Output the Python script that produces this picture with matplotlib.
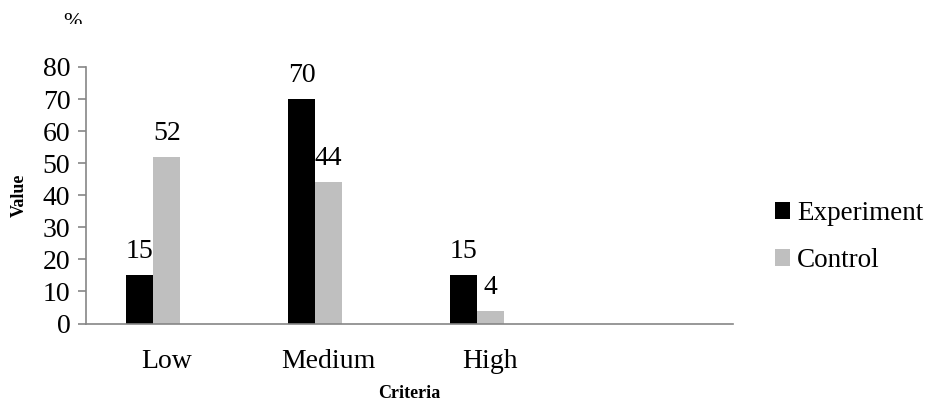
import matplotlib
matplotlib.use("Agg")
import matplotlib.pyplot as plt
import numpy as np
from matplotlib.transforms import Bbox, TransformedBbox

plt.rcParams['font.family'] = 'serif'
plt.rcParams['font.serif'] = ['Liberation Serif', 'Times New Roman', 'DejaVu Serif']

categories = ["Low", "Medium", "High"]
experiment = [15, 70, 15]
control = [52, 44, 4]
yticks = [0, 10, 20, 30, 40, 50, 60, 70, 80]

FS = 20
BLACK = "#000000"
GREY = "#BFBFBF"
AXIS = "#868686"

fig = plt.figure(figsize=(9.32, 4.00), dpi=100)
ax = fig.add_axes([86 / 932, 1 - 323.5 / 400, (732.7 - 86) / 932, (323.5 - 67) / 400])

x = np.arange(len(categories))
w = 1 / 6
b1 = ax.bar(x - w, experiment, width=w, align="center", color=BLACK, label="Experiment")
b2 = ax.bar(x, control, width=w, align="center", color=GREY, label="Control")

for bars, vals in ((b1, experiment), (b2, control)):
    for r, v in zip(bars, vals):
        ax.annotate(str(v), (r.get_x() + r.get_width() / 2, v),
                    xytext=(0, 12.2), textcoords="offset points",
                    ha="center", va="baseline", fontsize=FS, color="black")

ax.set_xlim(-0.5, 3.5)
ax.set_ylim(0, 80)
ax.set_yticks(yticks)
ax.set_xticks(x)
ax.set_xticklabels(categories)

for s in ("top", "right"):
    ax.spines[s].set_visible(False)
for s in ("left", "bottom"):
    ax.spines[s].set_color(AXIS)
    ax.spines[s].set_linewidth(1.2)

ax.tick_params(axis="y", direction="out", length=5.8, width=1.2, color=AXIS,
               labelsize=FS, pad=5.5)
ax.tick_params(axis="x", length=0, labelsize=FS, pad=18)

ax.set_xlabel("Criteria", fontsize=13, fontweight="bold", labelpad=8)
ax.set_ylabel("Value", fontsize=13, fontweight="bold")
ax.yaxis.set_label_coords(-0.0897, 0.5)

leg = fig.legend(handles=[b1, b2], loc="center left",
                 bbox_to_anchor=(775 / 932, 0.407), frameon=False,
                 fontsize=19.5, handlelength=0.56, handleheight=0.56,
                 handletextpad=0.26, labelspacing=0.82,
                 borderpad=0, borderaxespad=0)

pct = fig.text(72 / 932, 1 - 13 / 400, "%", fontsize=16, ha="center", va="top")
pct.set_clip_box(TransformedBbox(Bbox([[0, 1 - 24 / 400], [1, 1]]), fig.transFigure))
pct.set_clip_on(True)

fig.savefig("out.png", dpi=100)
